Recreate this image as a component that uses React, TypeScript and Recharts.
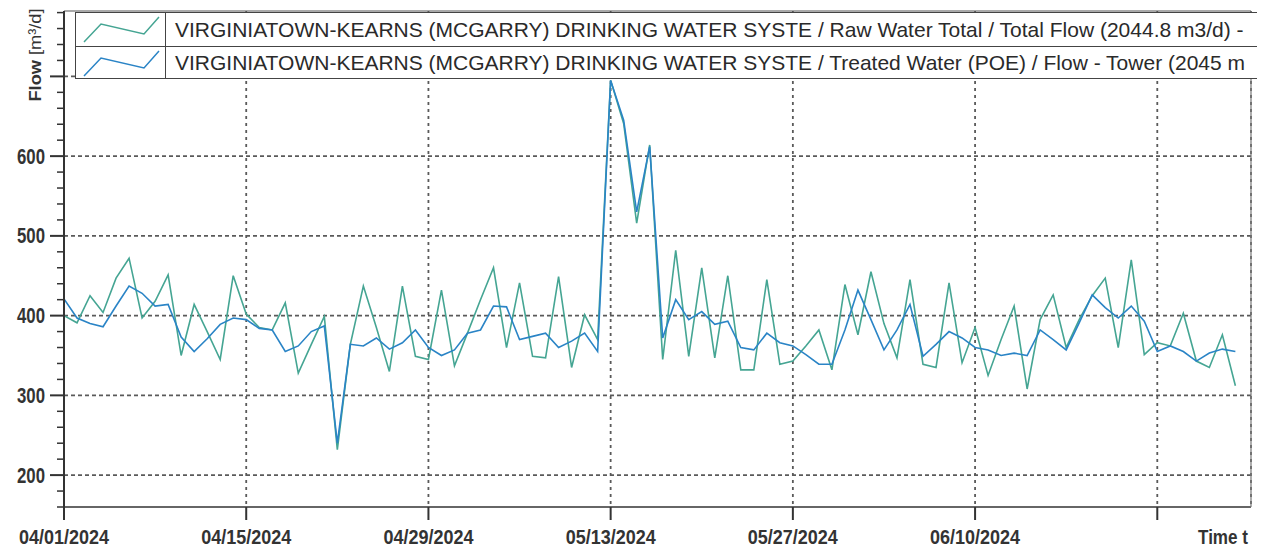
import React from 'react';
import { LineChart, Line, XAxis, YAxis, CartesianGrid, Legend } from 'recharts';

// Daily flow values from 04/01/2024 (day 0) to 06/30/2024 (day 90), m³/d
const rawWaterTotal = [
  400, 391, 425, 404, 447, 472, 397, 418, 451, 350,
  414, 380, 345, 450, 402, 385, 382, 416, 328, 364,
  399, 232, 364, 437, 385, 330, 437, 349, 345, 432,
  337, 378, 420, 460, 360, 441, 349, 347, 449, 335,
  401, 370, 695, 641, 516, 614, 345, 482, 349, 460,
  347, 450, 332, 332, 445, 339, 343, 362, 382, 332,
  439, 376, 455, 390, 347, 445, 339, 335, 441, 341,
  385, 325, 370, 412, 308, 395, 426, 360, 395, 425,
  447, 360, 470, 351, 366, 362, 403, 343, 335, 376,
  312,
];

const treatedWaterTower = [
  421, 397, 390, 386, 412, 437, 428, 412, 414, 373,
  355, 371, 389, 397, 395, 384, 382, 355, 362, 380,
  387, 240, 364, 362, 372, 358, 366, 382, 360, 350,
  357, 378, 382, 412, 411, 370, 374, 378, 360, 368,
  378, 355, 695, 645, 530, 612, 372, 420, 395, 405,
  389, 393, 360, 357, 378, 366, 362, 351, 339, 339,
  382, 432, 395, 357, 382, 414, 349, 364, 380, 372,
  360, 357, 350, 353, 350, 382, 370, 357, 391, 426,
  410, 397, 412, 393, 355, 362, 355, 343, 353, 358,
  355,
];

const xTickDays = [0, 14, 28, 42, 56, 70, 84];
const xTickLabels = ['04/01/2024', '04/15/2024', '04/29/2024', '05/13/2024', '05/27/2024', '06/10/2024', ''];
const yMajorTicks = [200, 300, 400, 500, 600, 700];
const yAllTicks = [
  160, 180, 200, 220, 240, 260, 280, 300, 320, 340, 360, 380, 400, 420, 440,
  460, 480, 500, 520, 540, 560, 580, 600, 620, 640, 660, 680, 700, 720, 740, 760, 780,
];
const yLabeled = [200, 300, 400, 500, 600];

const seriesNames = [
  'VIRGINIATOWN-KEARNS (MCGARRY) DRINKING WATER SYSTE / Raw Water Total / Total Flow (2044.8 m3/d) -',
  'VIRGINIATOWN-KEARNS (MCGARRY) DRINKING WATER SYSTE / Treated Water (POE) / Flow - Tower (2045 m',
];
const seriesColors = ['#45a593', '#2a84c6'];

const data = rawWaterTotal.map((v, i) => ({ day: i, raw: v, treated: treatedWaterTower[i] }));

const FONT = '"Liberation Sans", Arial, sans-serif';
const INK = '#333333';

const YTick = (props: any) => {
  const { x, y, payload } = props;
  const v = payload.value;
  const major = v % 100 === 0;
  return (
    <g>
      <line x1={x - (major ? 14 : 7)} x2={x} y1={y} y2={y} stroke={INK} strokeWidth={major ? 2 : 1.5} />
      {yLabeled.includes(v) && (
        <text
          x={x - 19}
          y={y}
          dy={7.5}
          textAnchor="end"
          fontFamily={FONT}
          fontSize={22}
          fontWeight="bold"
          fill={INK}
          textLength={28}
          lengthAdjust="spacingAndGlyphs"
        >
          {v}
        </text>
      )}
    </g>
  );
};

const XTick = (props: any) => {
  const { x, y, payload } = props;
  const label = xTickLabels[xTickDays.indexOf(payload.value)];
  if (!label) return <g />;
  return (
    <text
      x={x}
      y={y}
      dy={22}
      textAnchor="middle"
      fontFamily={FONT}
      fontSize={21}
      fontWeight="bold"
      fill={INK}
      textLength={90}
      lengthAdjust="spacingAndGlyphs"
    >
      {label}
    </text>
  );
};

const TimeLabel = (props: any) => {
  const { viewBox } = props;
  return (
    <text
      x={viewBox.x + viewBox.width - 3}
      y={viewBox.y + 37}
      textAnchor="end"
      fontFamily={FONT}
      fontSize={21}
      fontWeight="bold"
      fill={INK}
      textLength={50}
      lengthAdjust="spacingAndGlyphs"
    >
      Time t
    </text>
  );
};

const FlowLabel = (props: any) => {
  const { viewBox } = props;
  const cx = viewBox.x + 33;
  const cy = viewBox.y + 44;
  return (
    <text
      x={cx}
      y={cy}
      transform={`rotate(-90 ${cx} ${cy})`}
      textAnchor="middle"
      fontFamily={FONT}
      fontSize={17}
      fill={INK}
      textLength={93}
      lengthAdjust="spacingAndGlyphs"
    >
      <tspan fontWeight="bold">Flow</tspan>
      <tspan> [m³/d]</tspan>
    </text>
  );
};

const renderLegend = () => (
  <div
    style={{
      width: 1182,
      height: 67,
      border: '1.5px solid #444',
      borderRight: 'none',
      background: '#fff',
      overflow: 'hidden',
      boxSizing: 'border-box',
      fontFamily: FONT,
    }}
  >
    {seriesNames.map((name, i) => (
      <div
        key={name}
        style={{
          display: 'flex',
          height: i === 0 ? 33 : 32,
          borderTop: i ? '1.5px solid #444' : 'none',
          boxSizing: 'border-box',
        }}
      >
        <div style={{ width: 90, flex: 'none', borderRight: '1.5px solid #444', boxSizing: 'border-box' }}>
          <svg width={88} height={32} style={{ display: 'block' }}>
            <polyline
              points="8,29 25,11 68,21 83,4"
              fill="none"
              stroke={seriesColors[i]}
              strokeWidth={1.5}
            />
          </svg>
        </div>
        <div
          style={{
            paddingLeft: 9,
            fontSize: 21,
            lineHeight: i === 0 ? '33px' : '31px',
            whiteSpace: 'nowrap',
            color: '#2a2a2a',
          }}
        >
          {name}
        </div>
      </div>
    ))}
  </div>
);

export default function App() {
  return (
    <div style={{ width: 1260, height: 542 }}>
      <LineChart width={1260} height={542} data={data} margin={{ top: 2, right: 16, bottom: 0, left: 0 }}>
        <XAxis
          xAxisId="bottom"
          dataKey="day"
          type="number"
          domain={[0, 91.2]}
          ticks={xTickDays}
          interval={0}
          allowDataOverflow
          height={43}
          axisLine={{ stroke: INK, strokeWidth: 1.5 }}
          tickLine={{ stroke: INK, strokeWidth: 2 }}
          tickSize={13}
          tickMargin={2}
          tick={<XTick />}
          label={<TimeLabel />}
        />
        <XAxis
          xAxisId="top"
          orientation="top"
          dataKey="day"
          type="number"
          domain={[0, 91.2]}
          ticks={xTickDays}
          interval={0}
          allowDataOverflow
          height={1}
          axisLine={{ stroke: '#555', strokeWidth: 1.2 }}
          tickLine={{ stroke: '#555' }}
          tickSize={4}
          tick={false}
        />
        <YAxis
          yAxisId="left"
          type="number"
          domain={[160, 782]}
          ticks={yAllTicks}
          interval={0}
          allowDataOverflow
          width={56}
          axisLine={{ stroke: INK, strokeWidth: 2 }}
          tickLine={false}
          tickSize={0}
          tickMargin={0}
          tick={<YTick />}
          label={<FlowLabel />}
        />
        <YAxis
          yAxisId="right"
          orientation="right"
          type="number"
          domain={[160, 782]}
          width={1}
          axisLine={{ stroke: '#777', strokeWidth: 1.2 }}
          tickLine={false}
          tick={false}
        />
        <CartesianGrid
          xAxisId="bottom"
          yAxisId="left"
          vertical={false}
          horizontalValues={yMajorTicks}
          stroke="#5a5a5a"
          strokeWidth={1.6}
          strokeDasharray="4 3"
        />
        <CartesianGrid
          xAxisId="bottom"
          yAxisId="left"
          horizontal={false}
          stroke="#5a5a5a"
          strokeWidth={1.8}
          strokeDasharray="3 4"
        />
        <Line
          xAxisId="bottom"
          yAxisId="left"
          type="linear"
          dataKey="raw"
          name={seriesNames[0]}
          stroke={seriesColors[0]}
          strokeWidth={1.6}
          dot={false}
          isAnimationActive={false}
        />
        <Line
          xAxisId="bottom"
          yAxisId="left"
          type="linear"
          dataKey="treated"
          name={seriesNames[1]}
          stroke={seriesColors[1]}
          strokeWidth={1.6}
          dot={false}
          isAnimationActive={false}
        />
        <Legend
          layout="vertical"
          align="center"
          verticalAlign="middle"
          wrapperStyle={{ top: 4, left: 67, width: 1182, height: 67 }}
          content={renderLegend}
        />
      </LineChart>
    </div>
  );
}
